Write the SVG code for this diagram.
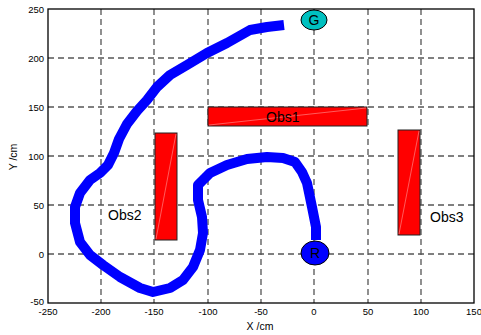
<svg xmlns="http://www.w3.org/2000/svg" width="481" height="335" viewBox="0 0 481 335">
<style>
text{font-family:"Liberation Sans",Arial,sans-serif;fill:#000}
.tick{font-size:9.5px}
.lbl{font-size:10.5px}
.obs{fill:#ff0000;stroke:#222;stroke-width:1}
.diag{stroke:#ff9999;stroke-width:0.6}
.gh{stroke:#000;stroke-width:1;stroke-dasharray:6 4}
.gv{stroke:#555;stroke-width:1.3;stroke-dasharray:6 4}
.olab{font-size:14px}
</style>
<rect width="481" height="335" fill="#fff"/>
<g id="grid">
<line class="gh" x1="48" y1="58" x2="474" y2="58"/>
<line class="gh" x1="48" y1="107" x2="474" y2="107"/>
<line class="gh" x1="48" y1="156" x2="474" y2="156"/>
<line class="gh" x1="48" y1="205" x2="474" y2="205"/>
<line class="gh" x1="48" y1="254" x2="474" y2="254"/>
<line class="gv" x1="101" y1="9" x2="101" y2="303"/>
<line class="gv" x1="154" y1="9" x2="154" y2="303"/>
<line class="gv" x1="208" y1="9" x2="208" y2="303"/>
<line class="gv" x1="261" y1="9" x2="261" y2="303"/>
<line class="gv" x1="314" y1="9" x2="314" y2="303"/>
<line class="gv" x1="368" y1="9" x2="368" y2="303"/>
<line class="gv" x1="421" y1="9" x2="421" y2="303"/>
</g>
<g id="axes">
<rect x="48" y="9" width="426" height="294" fill="none" stroke="#000" stroke-width="1.3"/>
<g class="tick" text-anchor="end">
<text x="44" y="12.5">250</text>
<text x="44" y="61.5">200</text>
<text x="44" y="110.5">150</text>
<text x="44" y="159.5">100</text>
<text x="44" y="208.5">50</text>
<text x="44" y="257.5">0</text>
<text x="44" y="305">-50</text>
</g>
<g class="tick" text-anchor="middle">
<text x="48" y="315">-250</text>
<text x="101" y="315">-200</text>
<text x="154" y="315">-150</text>
<text x="208" y="315">-100</text>
<text x="261" y="315">-50</text>
<text x="314" y="315">0</text>
<text x="368" y="315">50</text>
<text x="421" y="315">100</text>
<text x="474" y="315">150</text>
</g>
<text class="lbl" x="260" y="330" text-anchor="middle">X  /cm</text>
<text class="lbl" x="0" y="0" text-anchor="middle" transform="translate(17,157) rotate(-90)">Y  /cm</text>
</g>
<g id="obs1">
<rect class="obs" x="208" y="107" width="159" height="19"/>
<line class="diag" x1="209" y1="125" x2="366" y2="108"/>
<text class="olab" x="266" y="122">Obs1</text>
</g>
<g id="obs2">
<rect class="obs" x="155" y="133" width="22" height="107"/>
<line class="diag" x1="156" y1="239" x2="176" y2="134"/>
<text class="olab" x="108" y="219.5">Obs2</text>
</g>
<g id="obs3">
<rect class="obs" x="398" y="130" width="22" height="105"/>
<line class="diag" x1="399" y1="234" x2="419" y2="131"/>
<text class="olab" x="430" y="221.5">Obs3</text>
</g>
<g id="connectors">
<path d="M316,240 L316,227 L312,207 L307,183 L302,172 L295,162 L283,158 L267,157 L247,159 L227,165 L210,173 L198,185 L198,200 L202,217 L203,233 L200,250 L193,267 L183,280 L170,288 L153,292 L140,288 L120,277 L103,265 L90,255 L80,242 L75,223 L75,207 L80,193 L90,180 L100,173 L108,165 L114,153 L119,139 L127,124 L137,111 L147,100 L157,87 L170,75 L187,65 L207,53 L227,43 L250,30 L267,27 L284,25" fill="none" stroke="#0000ff" stroke-width="10" stroke-linejoin="round"/>
</g>
<g id="G">
<ellipse cx="314" cy="20" rx="13" ry="10" fill="#00c0c0" stroke="#000" stroke-width="1"/>
<text x="314" y="25" font-size="14" text-anchor="middle">G</text>
</g>
<g id="R">
<ellipse cx="315" cy="253" rx="14" ry="12" fill="#0000ff" stroke="#000" stroke-width="1"/>
<text x="315" y="258" font-size="14" text-anchor="middle">R</text>
</g>
</svg>
